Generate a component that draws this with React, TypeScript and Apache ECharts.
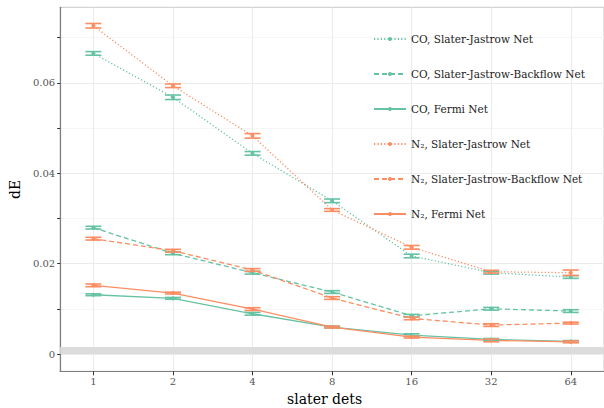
import React, { useEffect, useRef } from "react";
import * as echarts from "echarts";

const slaterDets = [1, 2, 4, 8, 16, 32, 64];

const coSJ = [0.0665, 0.0568, 0.0444, 0.0339, 0.0217, 0.018, 0.01705];
const coSJErr = [0.0004, 0.0005, 0.0004, 0.0004, 0.0004, 0.0003, 0.0003];
const coSJB = [0.02797, 0.02229, 0.018, 0.01373, 0.00848, 0.01003, 0.00952];
const coSJBErr = [0.0003, 0.0003, 0.0003, 0.0003, 0.0003, 0.0003, 0.0003];
const coFermi = [0.01313, 0.01233, 0.00892, 0.00598, 0.0042, 0.00325, 0.0028];
const coFermiErr = [0.0002, 0.0002, 0.0003, 0.0002, 0.0003, 0.0002, 0.0002];

const n2SJ = [0.07262, 0.05934, 0.04827, 0.03188, 0.02362, 0.01823, 0.018];
const n2SJErr = [0.0005, 0.0004, 0.0005, 0.0003, 0.0004, 0.0003, 0.0006];
const n2SJB = [0.02553, 0.02287, 0.0186, 0.0124, 0.0079, 0.00642, 0.00686];
const n2SJBErr = [0.0003, 0.0003, 0.0003, 0.0003, 0.0003, 0.0003, 0.0002];
const n2Fermi = [0.01521, 0.0135, 0.00996, 0.00598, 0.00376, 0.00303, 0.00272];
const n2FermiErr = [0.0003, 0.0002, 0.0003, 0.0002, 0.0002, 0.0003, 0.0002];

const yLabelValues = [0, 0.02, 0.04, 0.06];
const yTickValues = [0, 0.01, 0.02, 0.03, 0.04, 0.05, 0.06, 0.07];
const chemicalAccuracy = 0.0016;

const TEAL = "#66c2a5";
const ORANGE = "#fc8d62";
const FONT = "DejaVu Serif";

type SeriesDef = {
  name: string;
  values: number[];
  errors: number[];
  color: string;
  dash: any;
};

const seriesDefs: SeriesDef[] = [
  { name: "CO, Slater-Jastrow Net", values: coSJ, errors: coSJErr, color: TEAL, dash: [1.2, 2.2] },
  { name: "CO, Slater-Jastrow-Backflow Net", values: coSJB, errors: coSJBErr, color: TEAL, dash: [5, 3] },
  { name: "CO, Fermi Net", values: coFermi, errors: coFermiErr, color: TEAL, dash: "solid" },
  { name: "N₂, Slater-Jastrow Net", values: n2SJ, errors: n2SJErr, color: ORANGE, dash: [1.2, 2.2] },
  { name: "N₂, Slater-Jastrow-Backflow Net", values: n2SJB, errors: n2SJBErr, color: ORANGE, dash: [5, 3] },
  { name: "N₂, Fermi Net", values: n2Fermi, errors: n2FermiErr, color: ORANGE, dash: "solid" },
];

export default function App() {
  const ref = useRef<HTMLDivElement>(null);
  useEffect(() => {
    if (!ref.current) return;
    const chart = echarts.init(ref.current, undefined, { renderer: "svg" });
    const xs = slaterDets.map((d) => Math.log2(d));
    const xCustom = xs.slice();

    const lineSeries = seriesDefs.map((s) => ({
      name: s.name,
      type: "line",
      data: xs.map((x, i) => [x, s.values[i]]),
      symbol: "circle",
      symbolSize: 4,
      itemStyle: { color: s.color },
      lineStyle: { color: s.color, width: 1.3, type: s.dash },
      z: 3,
    }));

    const errSeries = seriesDefs.map((s) => ({
      name: s.name + " err",
      type: "custom",
      data: xs.map((x, i) => [x, s.values[i], s.errors[i]]),
      z: 4,
      renderItem: (params: any, api: any) => {
        const x = api.value(0);
        const y = api.value(1);
        const e = api.value(2);
        const top = api.coord([x, y + e]);
        const bot = api.coord([x, y - e]);
        const hw = 8;
        const style = { stroke: s.color, lineWidth: 1.6, fill: null };
        return {
          type: "group",
          children: [
            { type: "line", shape: { x1: top[0], y1: top[1], x2: bot[0], y2: bot[1] }, style },
            { type: "line", shape: { x1: top[0] - hw, y1: top[1], x2: top[0] + hw, y2: top[1] }, style },
            { type: "line", shape: { x1: bot[0] - hw, y1: bot[1], x2: bot[0] + hw, y2: bot[1] }, style },
          ],
        };
      },
    }));

    const bandSeries = {
      name: "band",
      type: "line",
      data: [],
      silent: true,
      markArea: {
        silent: true,
        itemStyle: { color: "#dcdcdc" },
        data: [[{ yAxis: 0 }, { yAxis: chemicalAccuracy }]],
      },
      z: 1,
    };

    chart.setOption({
      animation: false,
      backgroundColor: "#ffffff",
      grid: {
        left: 56,
        right: -4,
        top: 7.3,
        bottom: 408 - 371.3,
        show: true,
        borderColor: "#d4d4d4",
        borderWidth: 1.2,
        containLabel: false,
      },
      legend: {
        data: seriesDefs.map((s) => s.name),
        orient: "vertical",
        left: 373,
        top: 32,
        padding: 0,
        itemWidth: 32,
        itemHeight: 5,
        itemGap: 21,
        textStyle: { fontFamily: FONT, fontSize: 10.5, color: "#1a1a1a", lineHeight: 14 },
      },
      xAxis: {
        type: "value",
        min: -0.4175,
        max: 6.4175,
        axisLine: { show: true, onZero: false, lineStyle: { color: "#7f7f7f", width: 1.2 } },
        axisTick: { show: true, length: 4, customValues: xCustom, lineStyle: { color: "#333", width: 1 } },
        axisLabel: {
          customValues: xCustom,
          formatter: (v: number) => String(Math.round(Math.pow(2, v))),
          fontFamily: FONT,
          fontSize: 10,
          color: "#555",
          margin: 5,
        },
        splitLine: { show: true, lineStyle: { color: "#ebebeb", width: 1 } },
      },
      yAxis: {
        type: "value",
        min: -0.0038,
        max: 0.0767,
        name: "dE",
        nameLocation: "middle",
        nameGap: 38,
        nameTextStyle: { fontFamily: FONT, fontSize: 14, color: "#000" },
        axisLine: { show: true, onZero: false, lineStyle: { color: "#7f7f7f", width: 1.2 } },
        axisTick: { show: true, length: 3, customValues: yTickValues, lineStyle: { color: "#333", width: 1 } },
        axisLabel: {
          customValues: yLabelValues,
          formatter: (v: number) => (Math.abs(v) < 1e-9 ? "0" : v.toFixed(2)),
          fontFamily: FONT,
          fontSize: 10,
          color: "#555",
          margin: 5,
        },
        splitLine: { show: true, lineStyle: { color: ["#ebebeb", "#f6f6f6"], width: 1 } },
      },
      graphic: [
        {
          type: "text",
          left: 287,
          top: 392,
          style: { text: "slater dets", fontFamily: FONT, fontSize: 14, fill: "#000" },
        },
      ],
      series: [bandSeries, ...lineSeries, ...errSeries],
    });
    return () => chart.dispose();
  }, []);
  return (
    <div
      ref={ref}
      style={{ position: "fixed", left: 0, top: 0, width: 604, height: 408, background: "#fff" }}
    />
  );
}
